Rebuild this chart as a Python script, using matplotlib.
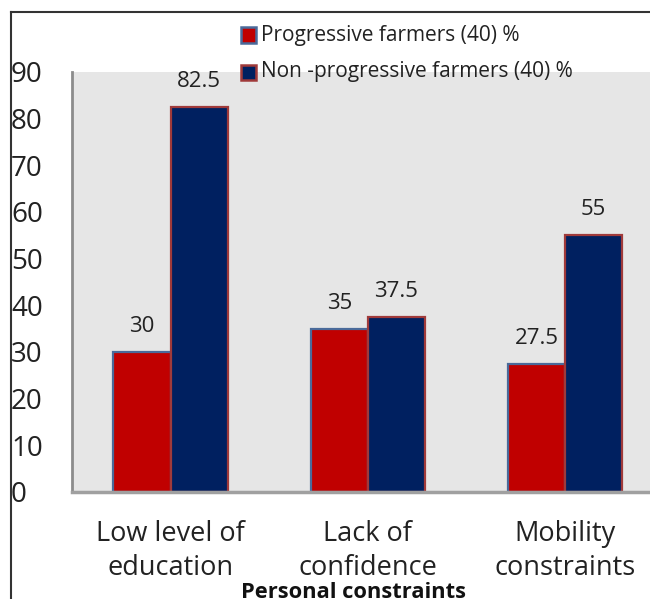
import matplotlib
matplotlib.use("Agg")
import matplotlib.pyplot as plt
from matplotlib.lines import Line2D
from matplotlib.patches import Rectangle
import numpy as np

categories = ["Low level of\neducation", "Lack of\nconfidence", "Mobility\nconstraints"]
progressive = [30, 35, 27.5]
non_progressive = [82.5, 37.5, 55]
series_names = ["Progressive farmers (40) %", "Non -progressive farmers (40) %"]
y_ticks = [0, 10, 20, 30, 40, 50, 60, 70, 80, 90]

plt.rcParams["font.family"] = ["Open Sans", "DejaVu Sans"]

W, H = 650, 599
fig = plt.figure(figsize=(W / 100, H / 100), dpi=100)

ax_left, ax_right = 72 / W, 1.0
ax_bottom, ax_top = (H - 492) / H, (H - 72) / H
ax = fig.add_axes([ax_left, ax_bottom, ax_right - ax_left, ax_top - ax_bottom])
ax.set_facecolor("#e6e6e6")

x = np.arange(len(categories))
bw = 0.29
red, navy = "#c00000", "#002060"
red_edge, navy_edge = "#4a6a9a", "#a03a3a"

b1 = ax.bar(x - bw / 2, progressive, bw, color=red, edgecolor=red_edge, linewidth=1.6)
b2 = ax.bar(x + bw / 2, non_progressive, bw, color=navy, edgecolor=navy_edge, linewidth=1.6)

for bars, vals in ((b1, progressive), (b2, non_progressive)):
    for rect, v in zip(bars, vals):
        ax.annotate(f"{v:g}", (rect.get_x() + rect.get_width() / 2, v),
                    xytext=(0, 14.4), textcoords="offset points",
                    ha="center", va="baseline", fontsize=16, color="#222222")

ax.set_ylim(0, 90)
ax.set_xlim(-0.5, (650 - 170.7) / 197.2)
ax.set_yticks(y_ticks)
ax.set_xticks(x)
ax.set_xticklabels(categories, fontsize=19.5, linespacing=1.3, color="#222222")
ax.tick_params(axis="y", labelsize=20, length=0, pad=0, labelcolor="#222222")
ax.tick_params(axis="x", length=0, pad=20)
for lbl in ax.get_yticklabels():
    lbl.set_horizontalalignment("left")
    lbl.set_x(-(72 - 11) / (W - 72))

for side in ("top", "right"):
    ax.spines[side].set_visible(False)
ax.spines["left"].set_color("#8c8c8c")
ax.spines["left"].set_linewidth(2)
ax.spines["bottom"].set_color("#a0a0a0")
ax.spines["bottom"].set_linewidth(2.5)

fig.text(353 / W, 1 - 598 / H, "Personal constraints", ha="center", va="baseline",
         fontsize=15.75, fontweight="bold", color="#111111")

# Legend drawn as marker squares plus text
legend_items = [(red, red_edge, series_names[0], 35), (navy, navy_edge, series_names[1], 72)]
for face, edge, label, ypx in legend_items:
    fig.patches.append(Rectangle((241 / W, 1 - (ypx + 7.5) / H), 15 / W, 15 / H,
                                 transform=fig.transFigure, facecolor=face,
                                 edgecolor=edge, linewidth=1.8))
    fig.text(261 / W, 1 - ypx / H, label, ha="left", va="center", fontsize=15,
             color="#222222")

# Outer frame
fig.lines.append(Line2D([11 / W, 1.0], [1 - 12 / H, 1 - 12 / H], transform=fig.transFigure,
                        color="#333333", linewidth=1.5))
fig.lines.append(Line2D([11 / W, 11 / W], [0, 1 - 12 / H], transform=fig.transFigure,
                        color="#333333", linewidth=1.5))

fig.savefig("out.png", dpi=100, facecolor="white")
